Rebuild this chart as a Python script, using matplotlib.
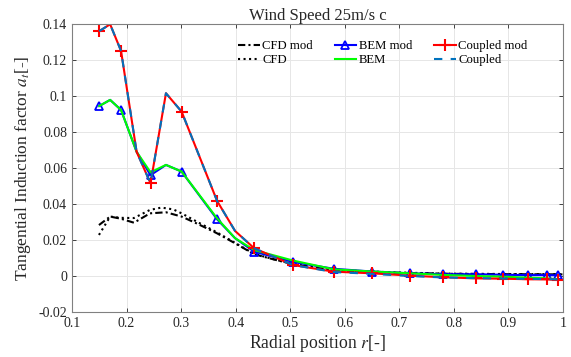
import matplotlib
matplotlib.use("Agg")
import matplotlib.pyplot as plt

plt.rcParams['font.family'] = ['Liberation Serif', 'DejaVu Serif']
plt.rcParams['mathtext.fontset'] = 'stix'

# Radial stations of the blade-element / coupled solutions
r_nodes = [0.15, 0.17, 0.19, 0.2185, 0.244, 0.2723, 0.301, 0.366, 0.399, 0.434,
           0.505, 0.58, 0.65, 0.72, 0.78, 0.84, 0.89, 0.935, 0.97, 0.99]
marker_idx = [0, 2, 4, 6, 7, 9, 10, 11, 12, 13, 14, 15, 16, 17, 18, 19]

coupled_mod = [0.136, 0.1398, 0.125, 0.069, 0.0515, 0.1015, 0.0913, 0.0417, 0.025, 0.0154,
               0.0061, 0.0024, 0.0015, 0.0002, -0.0007, -0.0013, -0.0015, -0.0018, -0.0019, -0.0022]
coupled = [0.136, 0.1398, 0.125, 0.069, 0.0515, 0.1015, 0.0913, 0.0417, 0.025, 0.0154,
           0.0061, 0.0022, 0.0012, 0.0, -0.0008, -0.0012, -0.0014, -0.0016, -0.0017, -0.0019]
bem = [0.0944, 0.0978, 0.0922, 0.069, 0.0576, 0.0617, 0.058, 0.032, 0.021, 0.0144,
       0.0086, 0.0037, 0.0025, 0.0015, 0.0006, 0.0, -0.0004, -0.0009, -0.0013, -0.0018]
bem_mod = [0.0944, 0.0978, 0.0922, 0.069, 0.056, 0.0617, 0.058, 0.0315, 0.021, 0.0135,
           0.0078, 0.004, 0.0025, 0.0015, 0.001, 0.001, 0.0007, 0.0005, 0.0005, 0.0004]

# CFD extracted distributions
r_cfd_mod = [0.1495, 0.17, 0.19, 0.2136, 0.243, 0.2723, 0.301, 0.33, 0.366, 0.40, 0.434,
             0.47, 0.5057, 0.55, 0.60, 0.70, 0.80, 0.90, 1.0]
cfd_mod = [0.0283, 0.033, 0.0318, 0.0296, 0.0348, 0.0354, 0.033, 0.029, 0.0237, 0.018, 0.0121,
           0.0092, 0.0065, 0.0045, 0.003, 0.0018, 0.0012, 0.001, 0.0009]
r_cfd = [0.1495, 0.17, 0.19, 0.2136, 0.243, 0.264, 0.2857, 0.301, 0.33, 0.366, 0.40, 0.434,
         0.47, 0.5057, 0.55, 0.60, 0.70, 0.80, 0.90, 1.0]
cfd = [0.0228, 0.033, 0.0323, 0.0322, 0.0367, 0.038, 0.037, 0.0348, 0.030, 0.0242, 0.0182,
       0.0123, 0.0093, 0.0066, 0.0046, 0.0031, 0.0019, 0.0013, 0.0011, 0.001]

xticks = [0.1, 0.2, 0.3, 0.4, 0.5, 0.6, 0.7, 0.8, 0.9, 1.0]
xtick_labels = ['0.1', '0.2', '0.3', '0.4', '0.5', '0.6', '0.7', '0.8', '0.9', '1']
yticks = [-0.02, 0.0, 0.02, 0.04, 0.06, 0.08, 0.1, 0.12, 0.14]
ytick_labels = ['-0.02', '0', '0.02', '0.04', '0.06', '0.08', '0.1', '0.12', '0.14']

fig = plt.figure(figsize=(5.71, 3.57), dpi=100)
ax = fig.add_axes([0.126, 0.126, 0.86, 0.807])

lw = 1.5
ax.plot(r_cfd_mod, cfd_mod, color='black', ls=(0, (3.5, 1.5, 1, 1.5)), lw=lw, label='CFD mod')
ax.plot(r_cfd, cfd, color='black', ls=':', lw=lw, label='CFD')
ax.plot(r_nodes, bem_mod, color='blue', ls='-', lw=lw, marker='^', markevery=marker_idx,
        markersize=6, markerfacecolor='none', markeredgewidth=1.3, label='BEM mod')
ax.plot(r_nodes, bem, color='#00ff00', ls='-', lw=lw, label='BEM')
ax.plot(r_nodes, coupled_mod, color='red', ls='-', lw=lw, marker='+', markevery=marker_idx,
        markersize=9, markeredgewidth=1.5, label='Coupled mod')
ax.plot(r_nodes, coupled, color='#0072BD', ls=(0, (4, 4)), lw=lw, label='Coupled')

ax.set_xlim(0.1, 1.0)
ax.set_ylim(-0.02, 0.14)
ax.set_xticks(xticks)
ax.set_xticklabels(xtick_labels)
ax.set_yticks(yticks)
ax.set_yticklabels(ytick_labels)
ax.tick_params(direction='in', labelsize=10, colors='#262626', length=3, width=0.6,
               top=True, right=True)
for sp in ax.spines.values():
    sp.set_color('#808080')
    sp.set_linewidth(0.8)
ax.grid(True, color='#e6e6e6', lw=0.7)
ax.set_axisbelow(True)

ax.set_xlabel('Radial position $r$[-]', fontsize=12.7, color='#262626', labelpad=2)
ax.set_ylabel('Tangential Induction factor $a_t$[-]', fontsize=12.5, color='#262626', labelpad=4)
ax.set_title('Wind Speed 25m/s c', fontsize=12, color='#262626', pad=3)

leg = ax.legend(loc='upper left', ncol=3, frameon=False, fontsize=9.2,
                handlelength=1.7, handletextpad=0.2, columnspacing=1.7,
                labelspacing=0.15, borderpad=0, borderaxespad=0,
                bbox_to_anchor=(0.338, 0.943))

fig.savefig('out.png', dpi=100)
